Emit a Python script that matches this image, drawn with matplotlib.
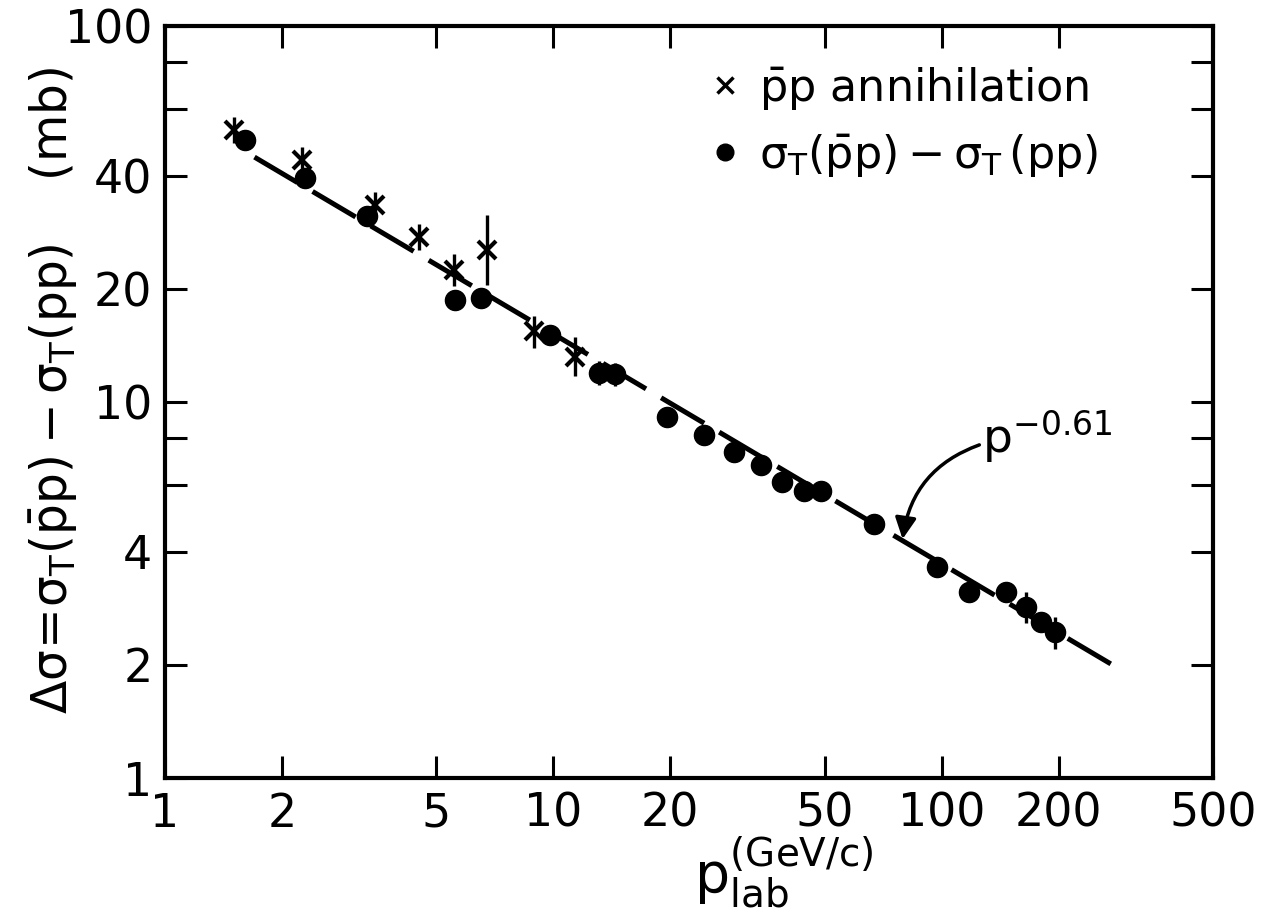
import matplotlib
matplotlib.use("Agg")
import matplotlib.pyplot as plt
from matplotlib.lines import Line2D

################################################################
##### values

# pbar-p annihilation cross sections (crosses)
ann_p = [1.51, 2.25, 3.48, 4.52, 5.56, 6.75, 8.90, 11.35]
ann_sigma = [52.9, 44.0, 33.4, 27.5, 22.4, 25.4, 15.4, 13.2]
ann_err_lo = [4.0, 3.4, 2.6, 2.1, 2.1, 4.9, 1.5, 1.5]
ann_err_hi = [4.3, 3.6, 2.7, 2.3, 2.3, 6.0, 1.5, 1.7]

# sigma_T(pbar p) - sigma_T(pp) (filled circles)
diff_p = [1.61, 2.30, 3.31, 5.59, 6.51, 9.82, 13.09, 14.45, 19.6, 24.5,
          29.2, 34.2, 38.8, 44.2, 49.0, 67.0, 97.0, 117.5, 146.5, 164.6,
          180.0, 196.0]
diff_sigma = [49.8, 39.5, 31.2, 18.7, 18.9, 15.1, 11.97, 11.85, 9.14, 8.17,
              7.38, 6.80, 6.14, 5.8, 5.8, 4.75, 3.65, 3.13, 3.13, 2.85,
              2.60, 2.44]
diff_err = [0, 0, 0, 0, 0, 0, 0.85, 0.85, 0, 0,
            0, 0, 0, 0, 0, 0, 0, 0, 0, 0.27,
            0, 0.24]

# fitted power law p^-0.61, end points of the drawn line
fit_p = [1.7, 275.0]
fit_sigma = [44.8, 2.0]

x_ticks = [1, 2, 5, 10, 20, 50, 100, 200, 500]
x_tick_labels = ["1", "2", "5", "10", "20", "50", "100", "200", "500"]
y_ticks = [1, 2, 4, 6, 8, 10, 20, 40, 60, 80, 100]
y_tick_labels = ["1", "2", "4", "", "", "10", "20", "40", "", "", "100"]

################################################################

FONT = "DejaVu Sans"
plt.rcParams["font.family"] = [FONT]
plt.rcParams["mathtext.fontset"] = "custom"
plt.rcParams["mathtext.rm"] = FONT
plt.rcParams["mathtext.it"] = FONT
plt.rcParams["mathtext.sf"] = FONT
plt.rcParams["mathtext.bf"] = FONT + ":bold"


def main():
    fig = plt.figure(figsize=(12.73, 9.18), dpi=100)
    ax = fig.add_axes([0.1296, 0.1525, 0.8234, 0.8192])
    ax.set_xscale("log")
    ax.set_yscale("log")
    ax.set_xlim(1, 500)
    ax.set_ylim(1, 100)

    # fit line first so markers sit on top
    ax.plot(fit_p, fit_sigma, color="k", lw=3.6, dashes=(10, 3.5), zorder=2)

    ax.errorbar(ann_p, ann_sigma, yerr=[ann_err_lo, ann_err_hi], fmt="x",
                color="k", ms=13, mew=3, elinewidth=2.4, capsize=0, zorder=3)
    ax.errorbar(diff_p, diff_sigma, yerr=diff_err, fmt="o", color="k",
                ms=14.5, elinewidth=2.4, capsize=0, zorder=4)

    # axes styling: ticks inside on all sides
    ax.set_xticks(x_ticks)
    ax.set_xticklabels(x_tick_labels)
    ax.set_yticks(y_ticks)
    ax.set_yticklabels(y_tick_labels)
    ax.minorticks_off()
    ax.tick_params(axis="both", which="major", direction="in", length=16,
                   width=2.2, labelsize=33, top=True, right=True)
    ax.tick_params(axis="x", pad=10)
    ax.tick_params(axis="y", pad=9)
    for spine in ax.spines.values():
        spine.set_linewidth(3)

    ax.set_ylabel(r"$\Delta\sigma\!=\!\sigma_{\rm T}(\bar{\rm p}{\rm p})-\sigma_{\rm T}({\rm pp})\quad\;({\rm mb})$",
                  fontsize=35)
    ax.yaxis.set_label_coords(-0.082, 0.515)
    ax.set_xlabel(r"${\rm p}_{\rm lab}^{\rm (GeV/c)}$", fontsize=40)
    ax.xaxis.set_label_coords(0.59, -0.075)

    handles = [
        Line2D([0], [0], marker="x", ls="none", color="k", ms=11, mew=2.5),
        Line2D([0], [0], marker="o", ls="none", color="k", ms=12),
    ]
    labels = [
        r"$\bar{\rm p}$p annihilation",
        r"$\sigma_{\rm T}(\bar{\rm p}{\rm p})-\sigma_{\rm T}\,({\rm pp})$",
    ]
    ax.legend(handles, labels, loc="upper left", bbox_to_anchor=(0.505, 0.972),
              frameon=False, fontsize=32, handlelength=0.6, handletextpad=0.45,
              labelspacing=0.45, borderaxespad=0)

    # p^-0.61 label with curved arrow onto the line
    ax.text(127.0, 7.36, r"p$^{-0.61}$", fontsize=34, ha="left", va="baseline")
    ax.annotate("", xy=(79.3, 4.32), xytext=(125.0, 7.69),
                arrowprops=dict(arrowstyle="-|>", connectionstyle="arc3,rad=0.3",
                                lw=2.5, color="k", mutation_scale=32,
                                shrinkA=0, shrinkB=0))

    fig.savefig("out.png", dpi=100)
    plt.close(fig)


if __name__ == "__main__":
    main()
